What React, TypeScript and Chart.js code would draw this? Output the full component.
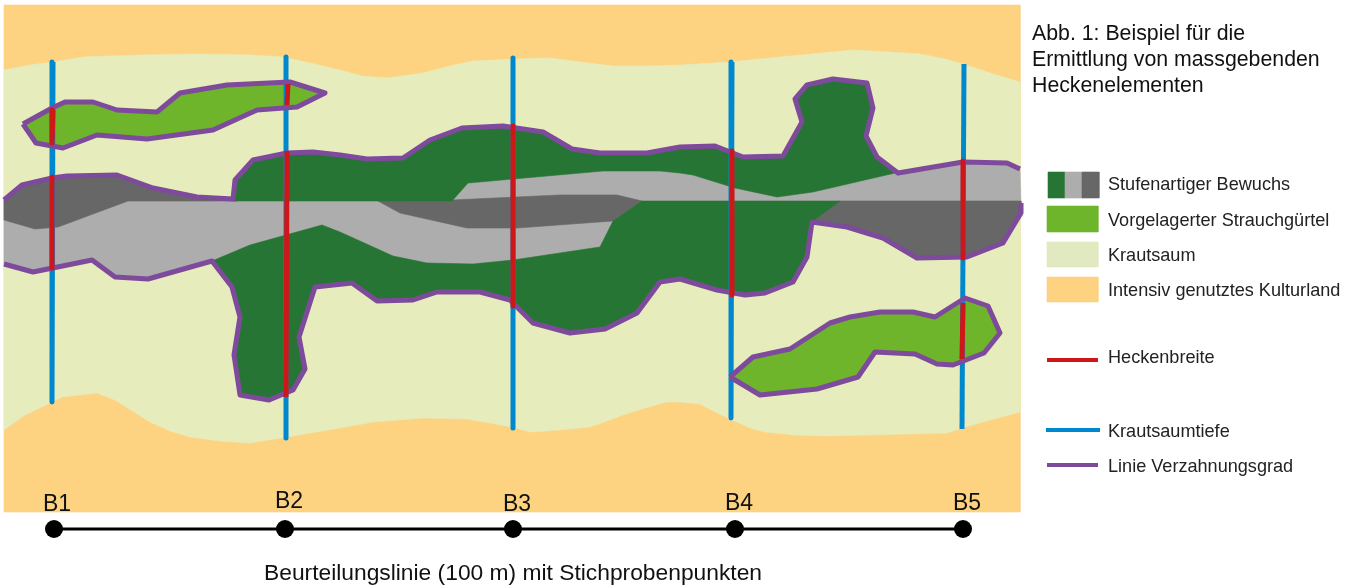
import React, { useEffect, useRef } from "react";
import { Chart, registerables } from "chart.js";

Chart.register(...registerables);

type P = [number, number];

const fieldFrame: P[] = [[4, 5], [1020, 5], [1020, 512], [4, 512]];
const marginTop: P[] = [[4, 70], [30, 65], [53, 62], [83, 57], [140, 55], [200, 54], [250, 55], [283, 57], [310, 63], [340, 70], [362, 76], [387, 78], [423, 73], [450, 66], [473, 61], [513, 59], [550, 58], [580, 62], [613, 66], [650, 66], [680, 65], [730, 62], [780, 57], [853, 50], [890, 52], [920, 54], [945, 59], [963, 64], [990, 73], [1020, 82]];
const marginBottom: P[] = [[4, 430], [25, 415], [52, 402], [62, 397], [80, 395], [97, 393], [115, 400], [150, 422], [170, 431], [190, 437], [220, 441], [250, 443], [287, 437], [340, 428], [373, 422], [423, 418], [467, 419], [490, 423], [512, 427], [530, 432], [560, 430], [590, 427], [607, 421], [623, 415], [645, 408], [667, 402], [680, 402], [700, 404], [715, 412], [732, 420], [750, 428], [765, 432], [795, 435], [827, 436], [947, 433], [962, 428], [990, 420], [1020, 412]];

const hedgeTop: P[] = [[4, 200], [22, 185], [52, 178], [67, 176], [117, 175], [153, 188], [197, 197], [233, 199], [235, 180], [253, 160], [287, 153], [313, 152], [340, 155], [367, 159], [403, 158], [430, 140], [462, 128], [503, 126], [543, 132], [572, 149], [600, 153], [647, 153], [680, 147], [715, 146], [743, 157], [783, 156], [802, 122], [795, 99], [807, 85], [833, 79], [867, 83], [873, 108], [866, 136], [877, 157], [898, 173], [963, 162], [1007, 163], [1020, 169]];
const hedgeBottom: P[] = [[4, 264], [33, 272], [92, 260], [115, 277], [148, 279], [212, 261], [232, 287], [240, 317], [234, 355], [240, 395], [269, 400], [293, 390], [305, 369], [299, 337], [315, 287], [352, 283], [377, 301], [413, 300], [437, 292], [480, 292], [510, 300], [533, 323], [570, 333], [605, 329], [637, 313], [660, 282], [680, 279], [717, 290], [745, 295], [765, 293], [793, 282], [807, 257], [812, 222], [847, 227], [883, 238], [917, 258], [967, 257], [1003, 243], [1021, 213], [1021, 203]];

const darkGreyLeft: P[] = [[4, 200], [22, 185], [52, 178], [67, 176], [117, 175], [153, 188], [197, 197], [233, 199], [237, 201], [128, 201], [58, 227], [35, 229], [4, 220]];
const darkGreyMiddle: P[] = [[378, 201], [400, 213], [467, 228], [517, 228], [613, 221], [642, 201], [617, 195], [560, 195], [452, 200]];
const darkGreyRight: P[] = [[840, 201], [1021, 201], [1021, 213], [1003, 243], [967, 257], [917, 258], [883, 238], [847, 227], [812, 222]];
const greenUpper: P[] = [[233, 201], [233, 199], [235, 180], [253, 160], [287, 153], [313, 152], [340, 155], [367, 159], [403, 158], [430, 140], [462, 128], [503, 126], [543, 132], [572, 149], [600, 153], [647, 153], [680, 147], [715, 146], [743, 157], [783, 156], [802, 122], [795, 99], [807, 85], [833, 79], [867, 83], [873, 108], [866, 136], [877, 157], [895, 173], [813, 192], [777, 197], [735, 188], [693, 175], [680, 173], [660, 171], [603, 171], [468, 183], [452, 201]];
const greenLower: P[] = [[212, 261], [250, 245], [322, 225], [340, 232], [393, 256], [427, 263], [473, 264], [513, 260], [600, 247], [613, 221], [642, 201], [840, 201], [812, 222], [807, 257], [793, 282], [765, 293], [745, 295], [717, 290], [680, 279], [660, 282], [637, 313], [605, 329], [570, 333], [533, 323], [510, 300], [480, 292], [437, 292], [413, 300], [377, 301], [352, 283], [315, 287], [299, 337], [305, 369], [293, 390], [269, 400], [240, 395], [234, 355], [240, 317], [232, 287]];
const shrubUpper: P[] = [[23, 124], [52, 108], [65, 102], [93, 102], [117, 110], [157, 112], [180, 93], [227, 85], [290, 82], [325, 93], [297, 107], [257, 110], [213, 130], [147, 139], [97, 135], [63, 148], [36, 143], [23, 124]];
const shrubLower: P[] = [[730, 377], [753, 357], [790, 349], [830, 323], [850, 317], [880, 312], [913, 312], [935, 317], [965, 298], [988, 306], [1000, 333], [984, 353], [953, 365], [937, 364], [915, 354], [875, 352], [858, 377], [817, 389], [760, 395], [730, 377]];

const blueLines: P[][] = [
  [[53, 62], [52, 402]],
  [[286, 57], [286, 438]],
  [[513, 58], [513, 428]],
  [[732, 62], [731, 418]],
  [[964, 64], [962, 429]],
];
const redLines: P[][] = [
  [[53, 110], [52, 143]],
  [[52, 177], [52, 268]],
  [[288, 84], [287, 105]],
  [[287, 151], [286, 397]],
  [[513, 126], [513, 306]],
  [[732, 151], [732, 295]],
  [[963, 161], [963, 258]],
  [[963, 303], [962, 359]],
];

const samplePoints: P[] = [[54, 529], [285, 529], [513, 529], [735, 529], [963, 529]];
const sampleLabels = ["B1", "B2", "B3", "B4", "B5"];
const sampleLabelAt: P[] = [[57, 505], [289, 502], [517, 505], [739, 504], [967, 504]];

const titleLines = ["Abb. 1: Beispiel für die", "Ermittlung von massgebenden", "Heckenelementen"];
const titleAt: P[] = [[1032, 34], [1032, 60], [1032, 86]];
const axisCaption = "Beurteilungslinie (100 m) mit Stichprobenpunkten";
const axisCaptionAt: P = [264, 574];

const legendLabels = ["Stufenartiger Bewuchs", "Vorgelagerter Strauchgürtel", "Krautsaum", "Intensiv genutztes Kulturland", "Heckenbreite", "Krautsaumtiefe", "Linie Verzahnungsgrad"];
const legendLabelAt: P[] = [[1108, 185], [1108, 221], [1108, 256], [1108, 291], [1108, 358], [1108, 432], [1108, 467]];

const rect = (x0: number, y0: number, x1: number, y1: number): P[] => [[x0, y0], [x1, y0], [x1, y1], [x0, y1], [x0, y0]];
const swatchFill: [P[], string][] = [
  [rect(1048, 172, 1065, 198), "#267534"],
  [rect(1065, 172, 1082, 198), "#ADADAD"],
  [rect(1082, 172, 1099, 198), "#676767"],
  [rect(1047, 206, 1098, 232), "#6FB52C"],
  [rect(1047, 242, 1098, 267), "#E1E9C0"],
  [rect(1047, 277, 1098, 302), "#FDD280"],
];
const swatchLines: [P[], string][] = [
  [[[1047, 360], [1098, 360]], "#CD1719"],
  [[[1046, 430], [1100, 430]], "#0088CF"],
  [[[1047, 465], [1098, 465]], "#7E4A9C"],
];

const close = (pts: P[]): P[] => [...pts, pts[0]];
const toXY = (pts: P[]) => pts.map(([x, y]) => ({ x, y }));

const area = (pts: P[], color: string) => ({
  type: "scatter",
  data: toXY(close(pts)),
  showLine: true,
  fill: "shape",
  backgroundColor: color,
  borderColor: color,
  borderWidth: 0.6,
  pointRadius: 0,
  tension: 0,
});
const stroke = (pts: P[], color: string, width: number) => ({
  type: "scatter",
  data: toXY(pts),
  showLine: true,
  fill: false,
  borderColor: color,
  borderWidth: width,
  borderJoinStyle: "round",
  borderCapStyle: "butt",
  pointRadius: 0,
  tension: 0,
});

const textPlugin = {
  id: "texts",
  afterDatasetsDraw(chart: any) {
    const { ctx, scales } = chart;
    const put = (t: string, p: P, font: string, color: string, base: CanvasTextBaseline, align: CanvasTextAlign) => {
      ctx.save();
      ctx.font = font;
      ctx.fillStyle = color;
      ctx.textBaseline = base;
      ctx.textAlign = align;
      ctx.fillText(t, scales.x.getPixelForValue(p[0]), scales.y.getPixelForValue(p[1]));
      ctx.restore();
    };
    const F = '"Liberation Sans", Arial, sans-serif';
    sampleLabels.forEach((t, i) => put(t, sampleLabelAt[i], `23px ${F}`, "#111", "middle", "center"));
    titleLines.forEach((t, i) => put(t, titleAt[i], `21.3px ${F}`, "#111", "middle", "left"));
    put(axisCaption, axisCaptionAt, `22.8px ${F}`, "#111", "middle", "left");
    legendLabels.forEach((t, i) => put(t, legendLabelAt[i], `18.1px ${F}`, "#222", "middle", "left"));
  },
};

export default function App() {
  const ref = useRef<HTMLCanvasElement>(null);
  useEffect(() => {
    const bottomFirst: any[] = [
      area(fieldFrame, "#FDD280"),
      area([...marginTop, ...[...marginBottom].reverse()], "#E6ECBC"),
      area([...hedgeTop, ...[...hedgeBottom].reverse()], "#ADADAD"),
      area(darkGreyLeft, "#676767"),
      area(darkGreyMiddle, "#676767"),
      area(darkGreyRight, "#676767"),
      area(greenUpper, "#267534"),
      area(greenLower, "#267534"),
      area(shrubUpper, "#6FB52C"),
      area(shrubLower, "#6FB52C"),
      ...blueLines.map((l) => stroke(l, "#0088CF", 5)),
      stroke(hedgeTop, "#7E4A9C", 5),
      stroke(hedgeBottom, "#7E4A9C", 5),
      stroke(shrubUpper, "#7E4A9C", 5),
      stroke(shrubLower, "#7E4A9C", 5),
      ...redLines.map((l) => stroke(l, "#CD1719", 5)),
      ...swatchFill.map(([p, c]) => area(p, c)),
      ...swatchLines.map(([p, c]) => stroke(p, c, 4)),
      { ...stroke(samplePoints, "#000000", 3), pointRadius: 9, pointBackgroundColor: "#000000", pointBorderWidth: 0 },
    ];
    const chart = new Chart(ref.current!, {
      type: "scatter",
      data: { datasets: [...bottomFirst].reverse() },
      options: {
        animation: false,
        responsive: false,
        devicePixelRatio: 1,
        events: [],
        layout: { padding: 0, autoPadding: false },
        plugins: { legend: { display: false }, tooltip: { enabled: false }, title: { display: false } },
        scales: {
          x: { type: "linear", display: false, min: 0, max: 1354 },
          y: { type: "linear", display: false, min: 0, max: 586, reverse: true },
        },
      },
      plugins: [textPlugin],
    } as any);
    return () => chart.destroy();
  }, []);
  return (
    <div style={{ position: "fixed", left: 0, top: 0, width: 1354, height: 586, background: "#fff" }}>
      <canvas ref={ref} width={1354} height={586} style={{ display: "block" }} />
    </div>
  );
}
